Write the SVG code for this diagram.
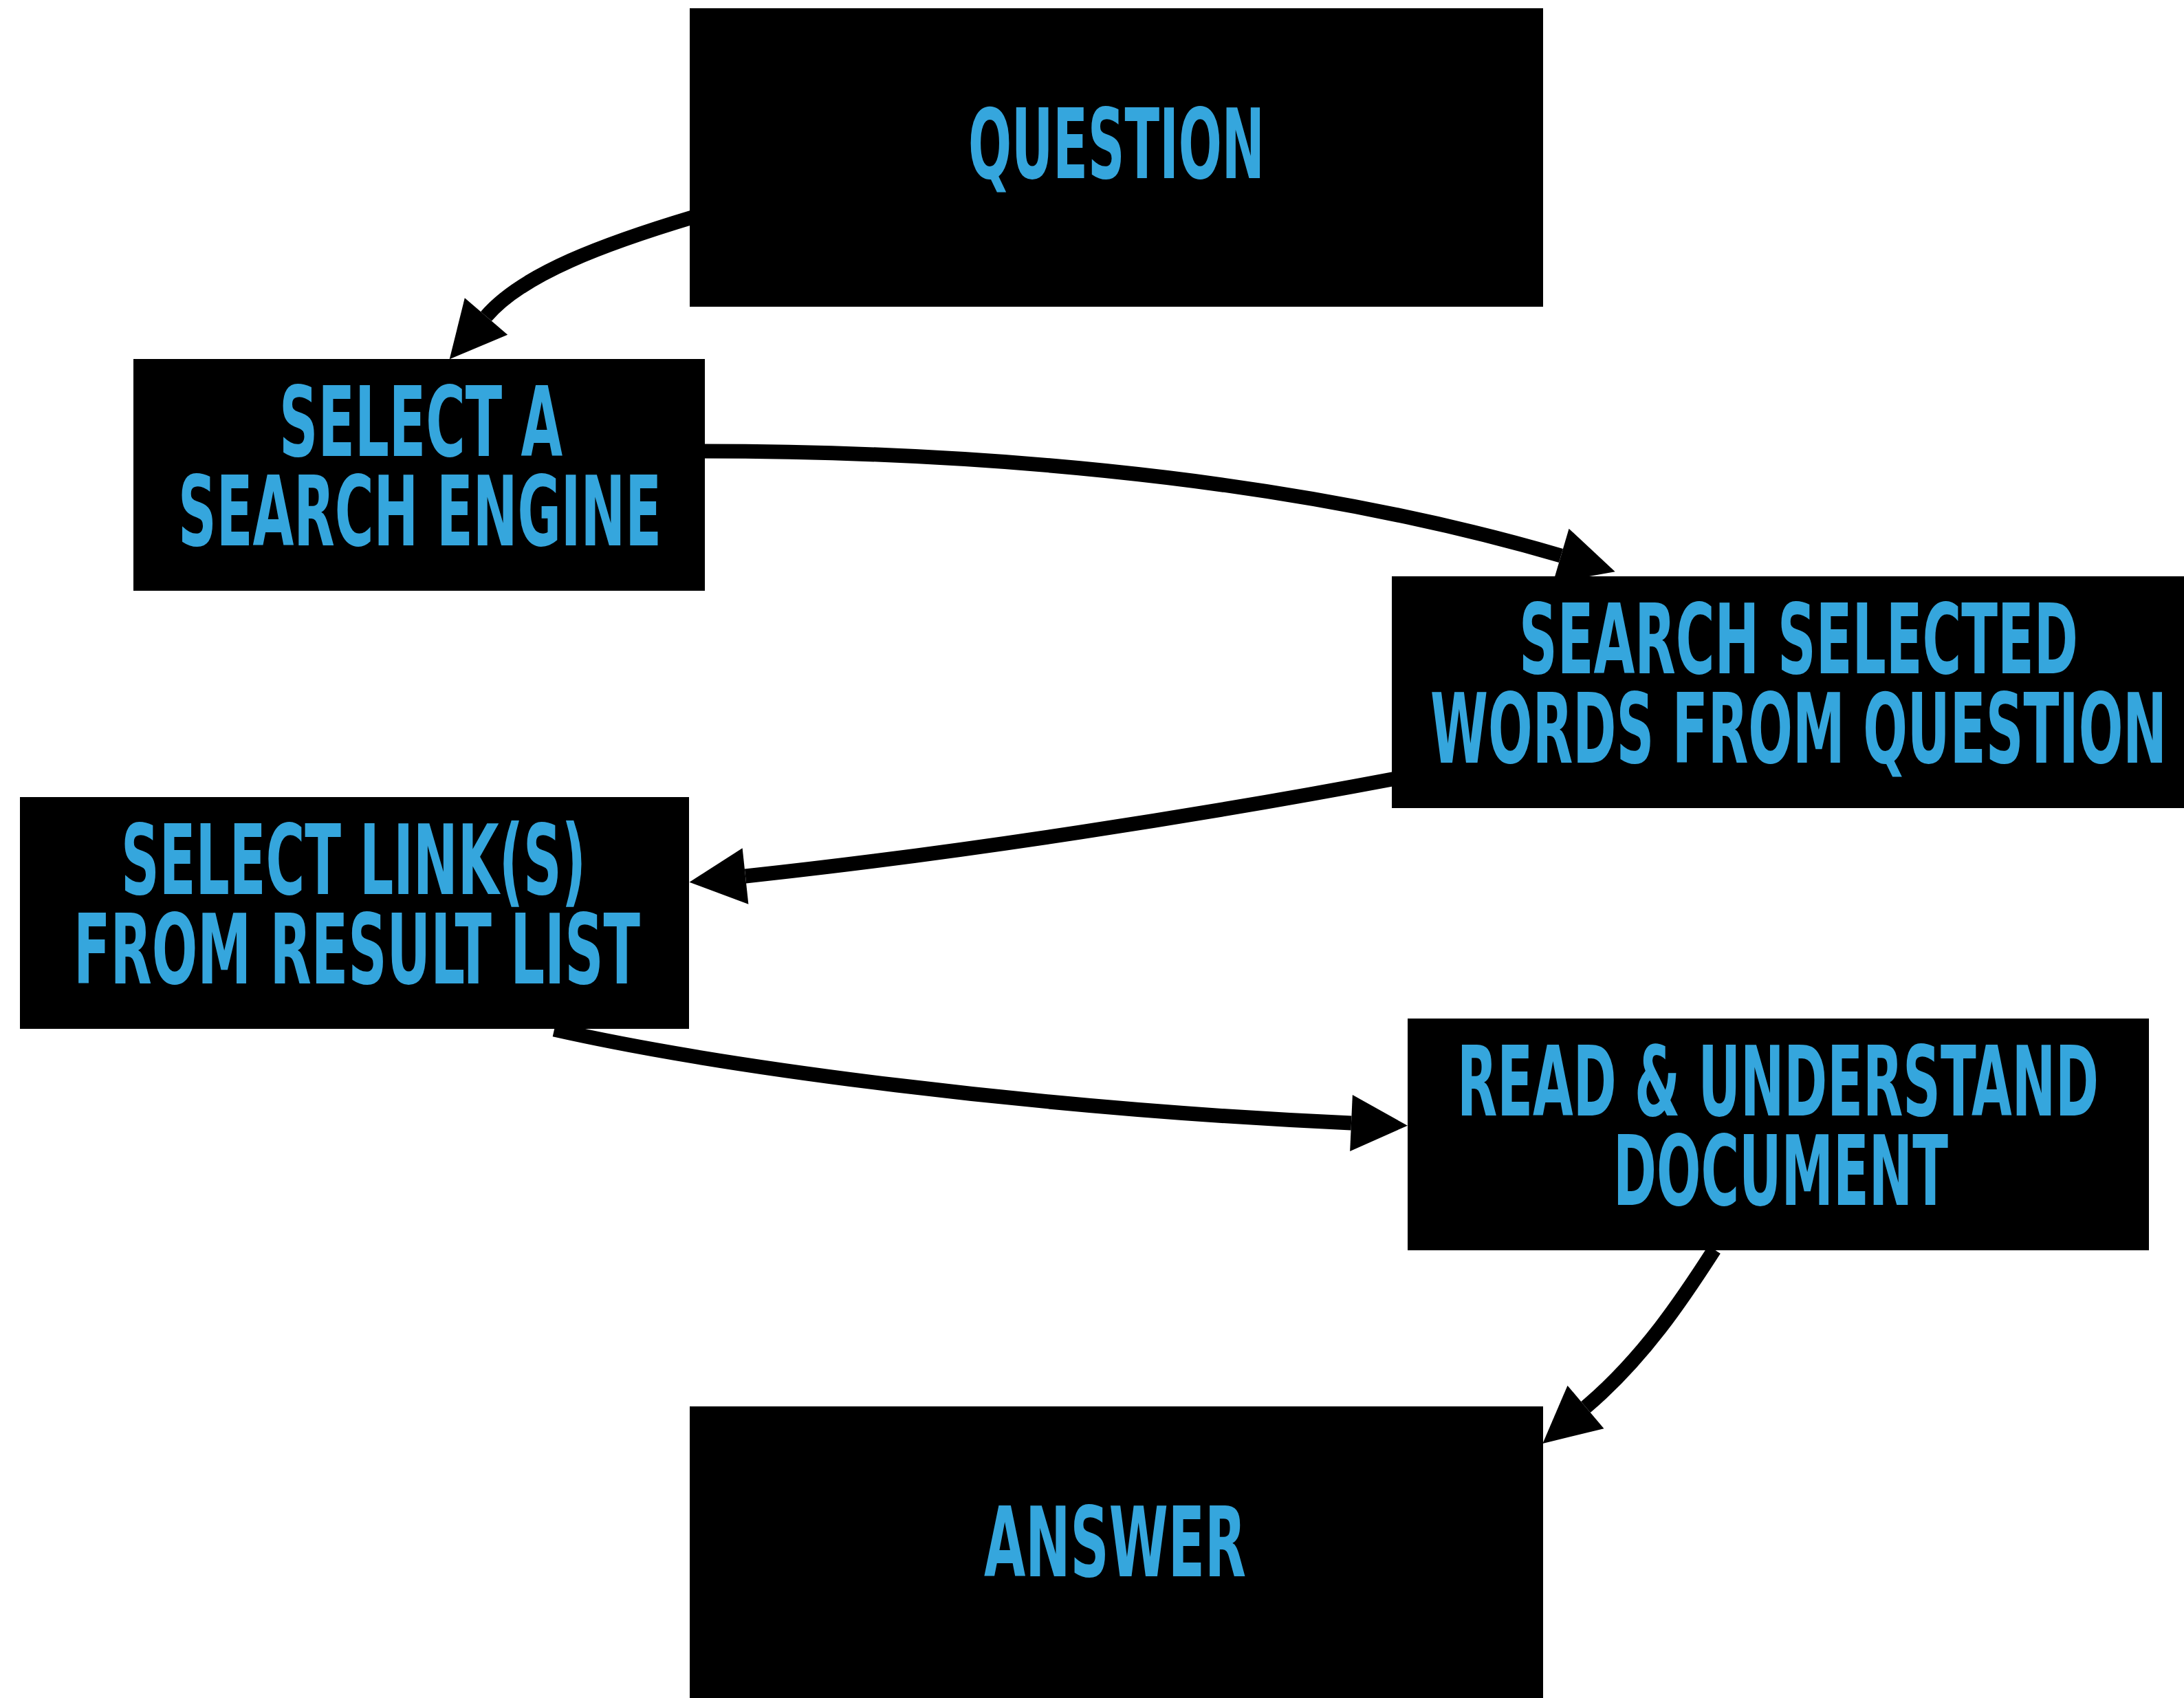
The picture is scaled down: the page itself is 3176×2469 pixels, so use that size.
<svg xmlns="http://www.w3.org/2000/svg" width="3176" height="2469" viewBox="0 0 3176 2469">
  <style>
    .box { fill: #000000; }
    .lbl { fill: #35a6dd; font-family: "DejaVu Sans Condensed", "DejaVu Sans", "Liberation Sans", sans-serif; font-weight: bold; font-size: 141px; text-anchor: middle; }
    .conn { fill: none; stroke: #000000; stroke-width: 21; marker-end: url(#arrow); }
  </style>
  <defs>
    <marker id="arrow" markerUnits="userSpaceOnUse" markerWidth="82" markerHeight="82" refX="0" refY="41" orient="auto" overflow="visible">
      <path d="M0,0 L82,41 L0,82 Z" fill="#000000"/>
    </marker>
  </defs>
  <rect x="0" y="0" width="3176" height="2469" fill="#ffffff"/>
  <g id="connectors">
    <path class="conn" d="M1010,315 C880,354 760,398 707,460"/>
    <path class="conn" d="M1020,656 C1500,656 1930,708 2270,808"/>
    <path class="conn" d="M2030,1132 C1750,1185 1400,1240 1084,1274"/>
    <path class="conn" d="M806,1497 C1050,1552 1500,1612 1965,1633"/>
    <path class="conn" d="M2493,1817 C2448,1887 2390,1975 2306,2046"/>
  </g>
  <g id="node-question">
    <rect class="box" x="1003" y="12" width="1241" height="434"/>
    <text class="lbl" x="1623.5" y="259" textLength="431" lengthAdjust="spacingAndGlyphs">QUESTION</text>
  </g>
  <g id="node-select-engine">
    <rect class="box" x="194" y="522" width="831" height="337"/>
    <text class="lbl" x="612" y="663" textLength="412" lengthAdjust="spacingAndGlyphs">SELECT A</text>
    <text class="lbl" x="610.5" y="793" textLength="703" lengthAdjust="spacingAndGlyphs">SEARCH ENGINE</text>
  </g>
  <g id="node-search-words">
    <rect class="box" x="2024" y="838" width="1152" height="337"/>
    <text class="lbl" x="2615.5" y="979" textLength="813" lengthAdjust="spacingAndGlyphs">SEARCH SELECTED</text>
    <text class="lbl" x="2615.5" y="1109" textLength="1071" lengthAdjust="spacingAndGlyphs">WORDS FROM QUESTION</text>
  </g>
  <g id="node-select-links">
    <rect class="box" x="29" y="1159" width="973" height="337"/>
    <text class="lbl" x="514" y="1300" textLength="676" lengthAdjust="spacingAndGlyphs">SELECT LINK(S)</text>
    <text class="lbl" x="519" y="1430" textLength="824" lengthAdjust="spacingAndGlyphs">FROM RESULT LIST</text>
  </g>
  <g id="node-read">
    <rect class="box" x="2047" y="1481" width="1078" height="337"/>
    <text class="lbl" x="2585.5" y="1622" textLength="933" lengthAdjust="spacingAndGlyphs">READ &amp; UNDERSTAND</text>
    <text class="lbl" x="2589.5" y="1752" textLength="487" lengthAdjust="spacingAndGlyphs">DOCUMENT</text>
  </g>
  <g id="node-answer">
    <rect class="box" x="1003" y="2045" width="1241" height="424"/>
    <text class="lbl" x="1621.5" y="2292" textLength="381" lengthAdjust="spacingAndGlyphs">ANSWER</text>
  </g>
</svg>
